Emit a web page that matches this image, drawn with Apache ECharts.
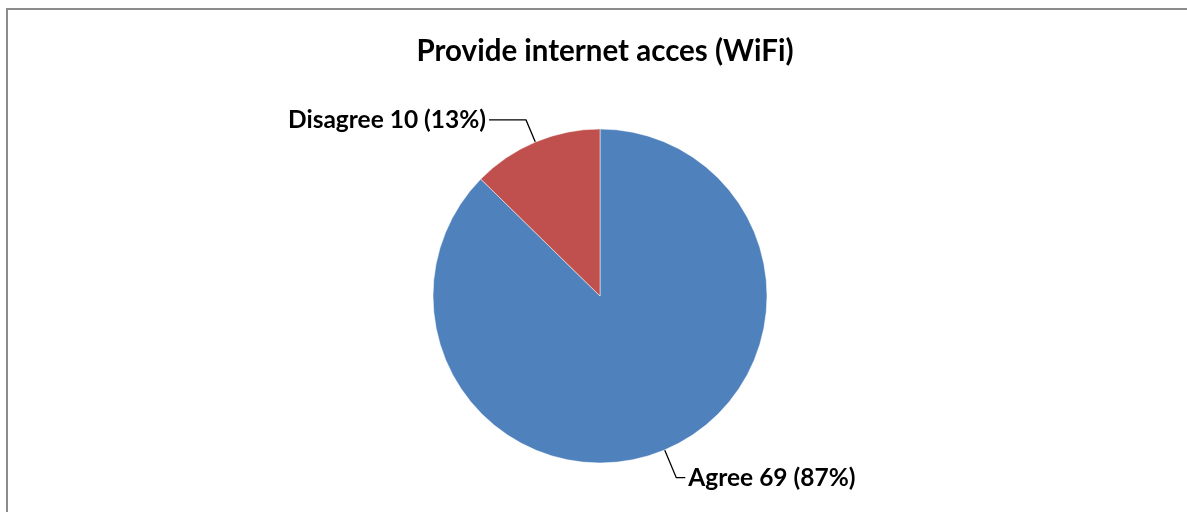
<!DOCTYPE html>
<html>
<head>
<meta charset="utf-8">
<script src="https://cdn.jsdelivr.net/npm/echarts@6/dist/echarts.min.js"></script>
<style>
html,body{margin:0;padding:0;background:#fff;}
#chart{width:1187px;height:512px;}
</style>
</head>
<body>
<div id="chart"></div>
<script>
const titleText = 'Provide internet acces (WiFi)';
const categories = ['Agree', 'Disagree'];
const values = [69, 10];
const colors = ['#4F81BD', '#C0504D'];
const leaderLengths = [[30, 9], [24, 37]];

const chart = echarts.init(document.getElementById('chart'), null, {renderer: 'canvas'});
const data = categories.map((c, i) => ({
  name: c,
  value: values[i],
  itemStyle: {color: colors[i]},
  labelLine: {length: leaderLengths[i][0], length2: leaderLengths[i][1]}
}));

chart.setOption({
  animation: false,
  backgroundColor: '#ffffff',
  graphic: [{
    type: 'rect',
    shape: {x: 7, y: 9, width: 1300, height: 700},
    style: {fill: 'none', stroke: '#8c8c8c', lineWidth: 2},
    silent: true,
    z: -1
  }],
  title: {
    text: titleText,
    left: 600,
    textAlign: 'center',
    top: 31,
    textStyle: {fontFamily: 'Lato', fontWeight: 'bold', fontSize: 29.5, color: '#000'}
  },
  series: [{
    type: 'pie',
    center: [600, 296],
    radius: 167,
    startAngle: 90,
    clockwise: true,
    percentPrecision: 0,
    data: data,
    itemStyle: {borderColor: '#ffffff', borderWidth: 0.5},
    label: {
      show: true,
      position: 'outside',
      formatter: '{b} {c} ({d}%)',
      fontFamily: 'Lato',
      fontWeight: 'bold',
      fontSize: 24.5,
      color: '#000',
      distanceToLabelLine: 3
    },
    labelLine: {
      show: true,
      smooth: false,
      lineStyle: {color: '#000', width: 1.3}
    },
    emphasis: {disabled: true}
  }]
});
</script>
</body>
</html>
